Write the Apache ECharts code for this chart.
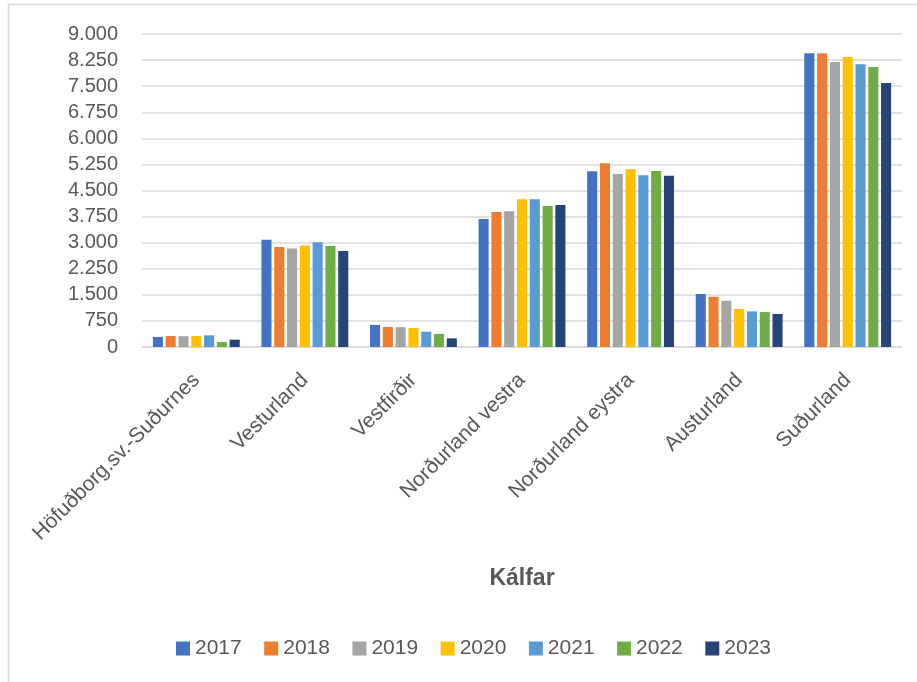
<!DOCTYPE html>
<html>
<head>
<meta charset="utf-8">
<script src="https://cdn.jsdelivr.net/npm/echarts@6/dist/echarts.min.js"></script>
<style>
html,body{margin:0;padding:0;background:#fff;}
#chart{width:917px;height:682px;}
</style>
</head>
<body>
<div id="chart"></div>
<script>
const categories = ['Höfuðborg.sv.-Suðurnes','Vesturland','Vestfirðir','Norðurland vestra','Norðurland eystra','Austurland','Suðurland'];
const years = ['2017','2018','2019','2020','2021','2022','2023'];
const v2017 = [290, 3085, 635, 3680, 5050, 1525, 8445];
const v2018 = [315, 2875, 575, 3880, 5280, 1445, 8445];
const v2019 = [310, 2830, 570, 3900, 4975, 1330, 8195];
const v2020 = [315, 2915, 545, 4245, 5110, 1095, 8340];
const v2021 = [335, 3010, 440, 4245, 4935, 1025, 8130];
const v2022 = [145, 2905, 375, 4055, 5060, 1005, 8050];
const v2023 = [210, 2760, 250, 4085, 4925, 950, 7590];
const seriesValues = [v2017, v2018, v2019, v2020, v2021, v2022, v2023];
const colors = ['#4472C4','#ED7D31','#A5A5A5','#FFC000','#5B9BD5','#70AD47','#264478'];
const axisTitle = 'Kálfar';

const fmt = v => String(v).replace(/\B(?=(\d{3})+(?!\d))/g, '.');
const FONT = 'Liberation Sans';

const chart = echarts.init(document.getElementById('chart'), null, {renderer: 'canvas'});
chart.setOption({
  animation: false,
  backgroundColor: '#fff',
  color: colors,
  textStyle: {fontFamily: FONT},
  graphic: [{
    type: 'rect', silent: true, z: -1,
    shape: {x: 8.5, y: 4.5, width: 1000, height: 1000},
    style: {fill: 'none', stroke: '#d9d9d9', lineWidth: 1.5}
  }],
  grid: {left: 142, right: 15, top: 34, bottom: 335, containLabel: false},
  legend: {
    data: years,
    left: 171, top: 633,
    itemWidth: 14, itemHeight: 14, itemGap: 22.5,
    icon: 'rect',
    textStyle: {fontFamily: FONT, fontSize: 21, color: '#595959', lineHeight: 20}
  },
  xAxis: {
    type: 'category',
    data: categories,
    name: axisTitle,
    nameLocation: 'middle',
    nameGap: 220,
    nameTextStyle: {fontFamily: FONT, fontSize: 23, fontWeight: 'bold', color: '#595959'},
    axisLine: {lineStyle: {color: '#d9d9d9', width: 1.5}},
    axisTick: {show: false},
    axisLabel: {rotate: 45, margin: 30, fontFamily: FONT, fontSize: 21, color: '#595959', interval: 0}
  },
  yAxis: {
    type: 'value',
    min: 0, max: 9000, interval: 750,
    axisLine: {show: false},
    axisTick: {show: false},
    splitLine: {lineStyle: {color: '#d9d9d9', width: 1.5}},
    axisLabel: {margin: 24, fontFamily: FONT, fontSize: 20, color: '#595959', formatter: fmt}
  },
  series: years.map((y, i) => ({
    name: y,
    type: 'bar',
    data: seriesValues[i],
    barGap: '27%',
    barCategoryGap: '20%',
    itemStyle: {color: colors[i]}
  }))
});
</script>
</body>
</html>
